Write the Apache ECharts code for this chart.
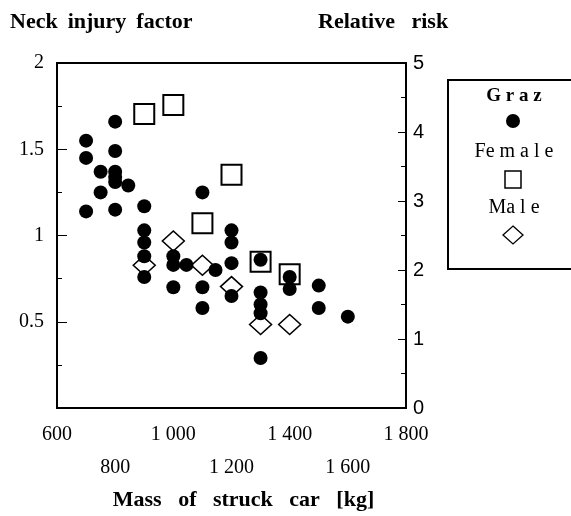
<!DOCTYPE html>
<html>
<head>
<meta charset="utf-8">
<script src="https://cdn.jsdelivr.net/npm/echarts@6/dist/echarts.min.js"></script>
<style>
html,body{margin:0;padding:0;background:#fff;}
#chart{width:571px;height:516px;}
</style>
</head>
<body>
<div id="chart"></div>
<script>
// ---- data ----
var grazMass = [700,700,700,750,750,800,800,800,800,800,800,845,900,900,900,900,900,1000,1000,1000,1045,1100,1100,1100,1145,1200,1200,1200,1200,1300,1300,1300,1300,1300,1400,1400,1500,1500,1600];
var grazNeckInjury = [1.55,1.45,1.14,1.37,1.25,1.66,1.49,1.37,1.34,1.31,1.15,1.29,1.17,1.03,0.96,0.88,0.76,0.88,0.83,0.70,0.83,1.25,0.70,0.58,0.80,1.03,0.96,0.84,0.65,0.86,0.67,0.60,0.55,0.29,0.76,0.69,0.71,0.58,0.53];
var femaleMass = [900,1000,1100,1200,1300,1400];
var femaleRisk = [4.26,4.39,2.68,3.38,2.12,1.94];
var maleMass = [900,1000,1100,1200,1300,1400];
var maleRisk = [2.07,2.42,2.07,1.76,1.21,1.21];
var xTickLabels = ['600','800','1 000','1 200','1 400','1 600','1 800'];
var leftTickLabels = ['','0.5','1','1.5','2'];
var rightTickLabels = ['0','1','2','3','4','5'];
var legendNames = ['Graz','Female','Male'];

function zip(a,b){return a.map(function(v,i){return [v,b[i]];});}

var chart = echarts.init(document.getElementById('chart'), null, {renderer:'canvas'});
var serif = '"Liberation Serif","Times New Roman",serif';
var sans = '"Liberation Sans",Arial,sans-serif';

var option = {
  backgroundColor:'#fff',
  animation:false,
  grid:{left:57,right:165,top:63,bottom:105,show:true,borderColor:'#000',borderWidth:2,backgroundColor:'transparent'},
  xAxis:{
    type:'value',min:600,max:1800,interval:200,
    axisLine:{show:true,lineStyle:{color:'#000',width:2}},
    axisTick:{show:false},
    splitLine:{show:false},
    axisLabel:{
      showMinLabel:true,showMaxLabel:true,
      margin:10,
      color:'#000',fontFamily:serif,fontSize:20,lineHeight:33,
      formatter:function(v){
        var i = Math.round((v-600)/200);
        return (i%2===1 ? '\n' : '') + xTickLabels[i];
      }
    },
    name:'Mass   of   struck   car   [kg]',
    nameLocation:'middle',nameGap:80,
    nameTextStyle:{color:'#000',fontFamily:serif,fontSize:22,fontWeight:'bold',padding:[0,0,0,24]}
  },
  yAxis:[{
    type:'value',min:0,max:2,interval:0.5,position:'left',
    axisLine:{show:true,lineStyle:{color:'#000',width:2}},
    axisTick:{show:true,inside:true,length:10,lineStyle:{color:'#000',width:1}},
    minorTick:{show:true,splitNumber:2,length:5,lineStyle:{color:'#000',width:1}},
    splitLine:{show:false},
    axisLabel:{margin:13,color:'#000',fontFamily:serif,fontSize:20,
      formatter:function(v){return leftTickLabels[Math.round(v/0.5)];}}
  },{
    type:'value',min:0,max:5,interval:1,position:'right',
    axisLine:{show:true,lineStyle:{color:'#000',width:2}},
    axisTick:{show:true,inside:true,length:8,lineStyle:{color:'#000',width:1}},
    minorTick:{show:true,splitNumber:2,length:5,lineStyle:{color:'#000',width:1}},
    splitLine:{show:false},
    axisLabel:{margin:7,color:'#000',fontFamily:sans,fontSize:20,
      formatter:function(v){return rightTickLabels[Math.round(v)];}}
  }],
  series:[{
    name:legendNames[1],type:'scatter',yAxisIndex:1,z:2,
    symbol:'rect',symbolSize:20,
    itemStyle:{color:'#fff',borderColor:'#000',borderWidth:2,opacity:1},
    data:zip(femaleMass,femaleRisk)
  },{
    name:legendNames[2],type:'scatter',yAxisIndex:1,z:3,
    symbol:'diamond',symbolSize:[22,20],
    itemStyle:{color:'#fff',borderColor:'#000',borderWidth:1.5,opacity:1},
    data:zip(maleMass,maleRisk)
  },{
    name:legendNames[0],type:'scatter',yAxisIndex:0,z:4,
    symbol:'circle',symbolSize:14,
    itemStyle:{color:'#000',opacity:1},
    data:zip(grazMass,grazNeckInjury)
  }],
  graphic:[
    {type:'text',left:10,top:11,style:{
      text:'{a|Neck}   {b|injury}   {a|factor}',
      rich:{a:{fontFamily:serif,fontSize:22,fontWeight:'bold',fill:'#000'},
            b:{fontFamily:serif,fontSize:22,fontWeight:900,fill:'#000'}}
    }},
    {type:'text',left:318,top:11,style:{
      text:'Relative   risk',font:'bold 22px '+serif,fill:'#000'
    }},
    {type:'rect',shape:{x:448,y:80,width:140,height:189},
      style:{fill:'#fff',stroke:'#000',lineWidth:2}},
    {type:'text',x:514,y:96,style:{text:'G r a z',font:'bold 19px '+serif,fill:'#000',textAlign:'center',textVerticalAlign:'middle'}},
    {type:'circle',shape:{cx:513,cy:121,r:7},style:{fill:'#000'}},
    {type:'text',x:514,y:152,style:{text:'Fe m a l e',font:'20px '+serif,fill:'#000',textAlign:'center',textVerticalAlign:'middle'}},
    {type:'rect',shape:{x:505,y:171,width:16,height:17},style:{fill:'#fff',stroke:'#000',lineWidth:1.5}},
    {type:'text',x:514,y:208,style:{text:'Ma l e',font:'20px '+serif,fill:'#000',textAlign:'center',textVerticalAlign:'middle'}},
    {type:'polygon',shape:{points:[[513,226],[523,235],[513,244],[503,235]]},style:{fill:'#fff',stroke:'#000',lineWidth:1.3}}
  ]
};
chart.setOption(option);
</script>
</body>
</html>
